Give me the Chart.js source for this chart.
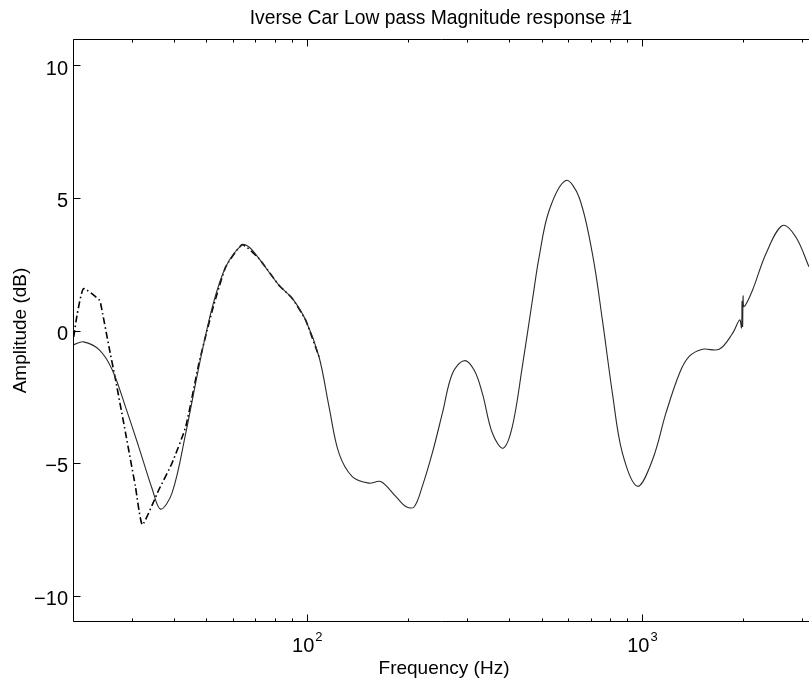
<!DOCTYPE html>
<html>
<head>
<meta charset="utf-8">
<script src="https://cdn.jsdelivr.net/npm/chart.js@4"></script>
<style>
  body { margin: 0; background: #fff; overflow: hidden; }
  canvas { display: block; }
</style>
</head>
<body>
<canvas id="myChart" width="809" height="686"></canvas>
<script>
// solid response (thin line)
const freqSolid = [20, 21.5, 24, 26.2, 28.7, 31.4, 34.5, 36.5, 39.5, 43.4, 47.5, 52.1, 57.1, 64, 67, 71.8,
  82.3, 90.2, 98.9, 108.4, 116.1, 124.3, 136.2, 152.8, 165.6, 183.6, 196.7, 208.2, 220.4, 236, 253,
  271, 293.6, 314.6, 333, 356.6, 384, 409, 438, 469.5, 491.6, 526.7, 590.6, 647, 709, 759.6, 813.6,
  871.6, 966.6, 1071.6, 1175, 1289, 1377, 1510, 1694, 1857, 1950, 1975, 1982, 1990, 1997, 2010,
  2130, 2336, 2618, 2871, 3140];
const dbSolid = [-0.55, -0.43, -0.74, -1.49, -2.89, -4.38, -6.0, -6.74, -6.13, -3.87, -1.37, 0.89, 2.4, 3.24, 3.15, 2.71,
  1.71, 1.21, 0.39, -0.99, -2.87, -4.63, -5.51, -5.76, -5.7, -6.26, -6.64, -6.66, -5.88, -4.63, -3.12,
  -1.62, -1.14, -1.49, -2.37, -3.87, -4.44, -3.63, -1.37, 1.14, 2.77, 4.53, 5.66, 5.03, 2.9, 0.39, -2.37,
  -4.63, -5.88, -4.88, -3.12, -1.62, -0.99, -0.71, -0.71, -0.11, 0.4, 0.1, 1.1, 0.15, 1.3, 0.9,
  1.52, 2.9, 3.96, 3.52, 2.4];

// dash-dot response (low frequency part)
const freqDash = [20.1, 20.6, 21.5, 24, 24.4, 25.6, 26.8, 28.7, 30.7, 32.2, 36.1, 39.5, 43.4, 47.5, 52.1,
  57.1, 64, 71.8, 82.3, 90.2, 98.9, 108.4];
const dbDash = [-0.24, 0.64, 1.58, 1.14, 0.77, -0.61, -1.87, -3.87, -5.88, -7.33, -6.0, -5.0, -3.63, -1.24, 0.77,
  2.4, 3.24, 2.71, 1.71, 1.21, 0.39, -0.99];

const yTicks = [-10, -5, 0, 5, 10];
const yTickLabels = ['\u221210', '\u22125', '0', '5', '10'];
const xTicks = [100, 1000];
const xTickBase = ['10', '10'];
const xTickExp = ['2', '3'];

const chartTitle = 'Iverse Car Low pass Magnitude response #1';
const xTitle = 'Frequency (Hz)';
const yTitle = 'Amplitude (dB)';

const FONT = '"Liberation Sans", Arial, Helvetica, sans-serif';

function toPoints(xs, ys) {
  return xs.map((x, i) => ({ x: x, y: ys[i] }));
}

// matlab style box, inward ticks and labels
const matlabAxes = {
  id: 'matlabAxes',
  afterDraw(chart) {
    const c = chart.ctx;
    const a = chart.chartArea;
    const xs = chart.scales.x, ys = chart.scales.y;
    const L = Math.round(a.left) + 0.5, T = Math.round(a.top) + 0.5, B = Math.round(a.bottom) - 0.5;
    const R = a.right + 5;
    c.save();
    c.strokeStyle = '#000';
    c.lineWidth = 1;
    c.beginPath();
    c.moveTo(R, T); c.lineTo(L, T); c.lineTo(L, B); c.lineTo(R, B);
    c.stroke();

    // x ticks
    c.beginPath();
    for (let d = 10; d <= 1000; d *= 10) {
      for (let m = 2; m <= 9; m++) {
        const v = d * m;
        if (v < xs.min || v > xs.max) continue;
        const px = Math.round(xs.getPixelForValue(v)) + 0.5;
        c.moveTo(px, B); c.lineTo(px, B - 3);
        c.moveTo(px, T); c.lineTo(px, T + 3);
      }
    }
    xTicks.forEach(v => {
      const px = Math.round(xs.getPixelForValue(v)) + 0.5;
      c.moveTo(px, B); c.lineTo(px, B - 7);
      c.moveTo(px, T); c.lineTo(px, T + 7);
    });
    yTicks.forEach(v => {
      const py = Math.round(ys.getPixelForValue(v)) + 0.5;
      c.moveTo(L, py); c.lineTo(L + 7, py);
    });
    c.stroke();

    c.fillStyle = '#000';
    // y labels
    c.font = '20px ' + FONT;
    c.textAlign = 'right';
    c.textBaseline = 'alphabetic';
    yTicks.forEach((v, i) => {
      const py = ys.getPixelForValue(v);
      c.fillText(yTickLabels[i], 68, py + 9);
    });

    // x labels with exponent
    c.textAlign = 'left';
    xTicks.forEach((v, i) => {
      const px = xs.getPixelForValue(v);
      c.font = '20px ' + FONT;
      const w1 = c.measureText(xTickBase[i]).width;
      c.font = '13px ' + FONT;
      const w2 = c.measureText(xTickExp[i]).width;
      const x0 = px - (w1 + w2 + 1) / 2;
      c.font = '20px ' + FONT;
      c.fillText(xTickBase[i], x0, 652);
      c.font = '13px ' + FONT;
      c.fillText(xTickExp[i], x0 + w1 + 1, 641);
    });

    // titles
    c.font = '19.3px ' + FONT;
    c.textAlign = 'center';
    c.fillText(chartTitle, (a.left + a.right) / 2, 24);
    c.font = '19px ' + FONT;
    c.fillText(xTitle, (a.left + a.right) / 2 + 3, 674);
    c.translate(26, (a.top + a.bottom) / 2);
    c.rotate(-Math.PI / 2);
    c.fillText(yTitle, 0, 0);
    c.restore();
  }
};

const ctx = document.getElementById('myChart');
new Chart(ctx, {
  type: 'line',
  data: {
    datasets: [{
      label: 'response',
      data: toPoints(freqSolid, dbSolid),
      borderColor: '#2a2a2a',
      borderWidth: 1.1,
      pointRadius: 0,
      tension: 0.35,
      fill: false
    }, {
      label: 'reference',
      data: toPoints(freqDash, dbDash),
      borderColor: '#000',
      borderWidth: 1.6,
      borderDash: [7, 3, 1.5, 3],
      pointRadius: 0,
      tension: 0.15,
      fill: false
    }]
  },
  options: {
    responsive: false,
    animation: false,
    layout: { padding: { left: 73, top: 39, right: 0, bottom: 64 } },
    plugins: {
      legend: { display: false },
      title: { display: false },
      tooltip: { enabled: false }
    },
    scales: {
      x: { type: 'logarithmic', min: 20, max: 3140, display: false },
      y: { type: 'linear', min: -11, max: 11, display: false }
    }
  },
  plugins: [matlabAxes]
});
</script>
</body>
</html>
